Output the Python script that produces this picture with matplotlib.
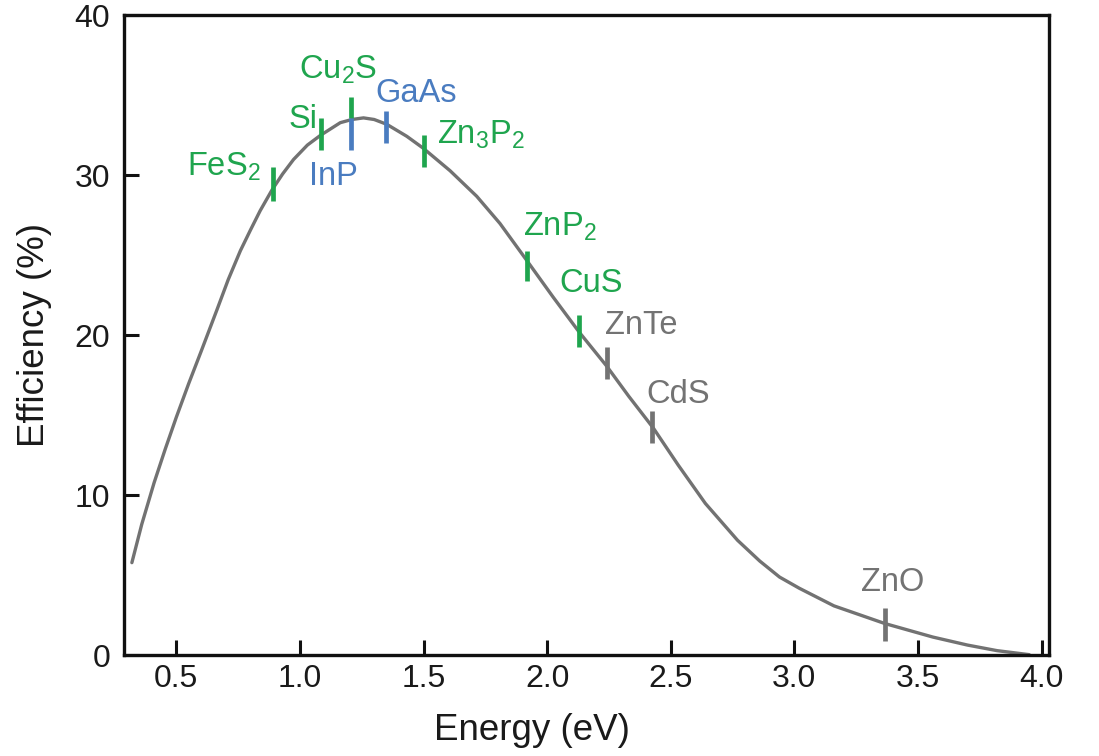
import matplotlib
matplotlib.use("Agg")
import matplotlib.pyplot as plt

plt.rcParams['font.family'] = ['Liberation Sans', 'DejaVu Sans']
plt.rcParams['mathtext.fontset'] = 'custom'
plt.rcParams['mathtext.rm'] = 'Liberation Sans'

# Efficiency curve
energy = [0.32, 0.36, 0.41, 0.455, 0.50, 0.55, 0.60, 0.664, 0.71, 0.759, 0.80, 0.839,
          0.887, 0.93, 0.974, 1.03, 1.082, 1.163, 1.21, 1.257, 1.30, 1.351, 1.432, 1.499,
          1.607, 1.715, 1.809, 1.917, 2.024, 2.13, 2.24, 2.33, 2.43, 2.53, 2.64, 2.77,
          2.86, 2.94, 3.02, 3.16, 3.365, 3.56, 3.70, 3.82, 3.95]
efficiency = [5.8, 8.2, 10.8, 12.9, 14.9, 17.0, 19.0, 21.6, 23.5, 25.3, 26.6, 27.8,
              29.1, 30.1, 31.0, 31.9, 32.5, 33.3, 33.5, 33.6, 33.5, 33.2, 32.45, 31.7,
              30.3, 28.7, 27.0, 24.7, 22.4, 20.2, 18.1, 16.2, 14.2, 11.9, 9.5, 7.2,
              5.9, 4.9, 4.2, 3.1, 2.0, 1.15, 0.65, 0.3, 0.05]

# Material markers: band-gap energy and the efficiency span of each bar
materials = ['FeS$_2$', 'Si', 'Cu$_2$S', 'InP', 'GaAs', 'Zn$_3$P$_2$', 'ZnP$_2$', 'CuS', 'ZnTe', 'CdS', 'ZnO']
mat_energy = [0.89, 1.085, 1.207, 1.207, 1.35, 1.50, 1.917, 2.13, 2.243, 2.425, 3.365]
mat_lo = [28.4, 31.6, 33.6, 31.6, 32.0, 30.5, 23.4, 19.3, 17.3, 13.3, 0.9]
mat_hi = [30.5, 33.6, 34.9, 33.6, 34.0, 32.5, 25.3, 21.3, 19.3, 15.3, 2.95]
mat_group = ['green', 'green', 'green', 'blue', 'blue', 'green', 'green', 'green', 'gray', 'gray', 'gray']
# label anchor (energy, efficiency) and alignment
lab_x = [0.84, 1.07, 1.155, 1.134, 1.304, 1.553, 1.902, 2.05, 2.233, 2.402, 3.27]
lab_y = [30.03, 32.95, 36.07, 29.4, 34.6, 32.0, 26.28, 22.7, 20.1, 15.76, 4.05]
lab_ha = ['right', 'right', 'center', 'center', 'left', 'left', 'left', 'left', 'left', 'left', 'left']

xticks = [0.5, 1.0, 1.5, 2.0, 2.5, 3.0, 3.5, 4.0]
xticklabels = ['0.5', '1.0', '1.5', '2.0', '2.5', '3.0', '3.5', '4.0']
yticks = [0, 10, 20, 30, 40]

colors = {'green': '#1fa54e', 'blue': '#4a7cc0', 'gray': '#737373'}

fig = plt.figure(figsize=(10.99, 7.56), dpi=100)
ax = fig.add_axes([0.1128, 0.133, 0.8417, 0.8465])

ax.plot(energy, efficiency, color='#727272', lw=2.4, solid_capstyle='round',
        solid_joinstyle='round', zorder=2)

for e, lo, hi, g in zip(mat_energy, mat_lo, mat_hi, mat_group):
    ax.plot([e, e], [lo, hi], color=colors[g], lw=3.4, solid_capstyle='butt', zorder=3)

for name, x, y, ha, g in zip(materials, lab_x, lab_y, lab_ha, mat_group):
    ax.text(x, y, name, color=colors[g], fontsize=23.5, ha=ha, va='baseline', zorder=4)

ax.set_xlim(0.288, 4.03)
ax.set_ylim(0, 40)
ax.set_xticks(xticks)
ax.set_xticklabels(xticklabels)
ax.set_yticks(yticks)
ax.tick_params(axis='both', direction='in', length=11, width=2.2, labelsize=23,
               labelcolor='#1a1a1a', color='#111111')
ax.tick_params(axis='x', pad=6)
ax.tick_params(axis='y', pad=10)
for s in ax.spines.values():
    s.set_linewidth(2.4)
    s.set_color('#111111')

ax.set_xlabel('Energy (eV)', fontsize=26.5, color='#1a1a1a')
ax.set_ylabel('Efficiency (%)', fontsize=26.5, color='#1a1a1a')
ax.xaxis.set_label_coords(0.441, -0.09)
ax.yaxis.set_label_coords(-0.078, 0.5)

fig.savefig('out.png', dpi=100)
